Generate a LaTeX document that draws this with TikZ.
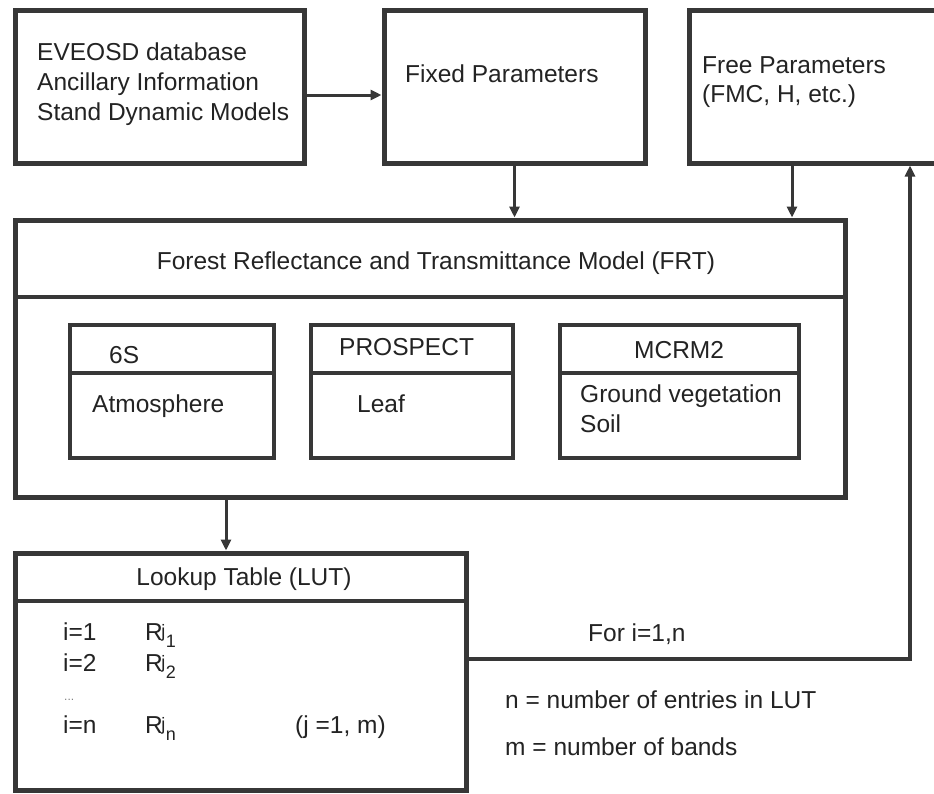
\documentclass[tikz,border=0pt]{standalone}
\usepackage{fontspec}
\setmainfont{Liberation Sans}
\usetikzlibrary{arrows.meta}
\definecolor{ink}{RGB}{55,55,55}
\definecolor{txt}{RGB}{35,35,35}
% R with superscript j and a subscript index
\newcommand{\Rji}[1]{R\kern-1.5pt\raisebox{3pt}{\fontsize{18}{18}\selectfont j}\kern0.5pt\raisebox{-7pt}{\fontsize{18}{18}\selectfont #1}}
\begin{document}
\begin{tikzpicture}[x=1pt,y=-1pt,
  outerbox/.style={draw=ink, line width=5pt, rectangle, inner sep=0pt, outer sep=0pt, anchor=north west},
  innerbox/.style={draw=ink, line width=3.5pt, rectangle, inner sep=0pt, outer sep=0pt, anchor=north west},
  lbl/.style={anchor=base west, inner sep=0pt, text=txt, font=\fontsize{24.5}{29}\selectfont},
  clbl/.style={anchor=base, inner sep=0pt, text=txt, font=\fontsize{24.5}{29}\selectfont},
  tip/.style={-{Triangle[length=11pt,width=10pt]}},
  arr/.style={draw=ink, line width=3pt, tip, shorten >=2.5pt},
  link/.style={draw=ink, line width=4pt},
  divider/.style={draw=ink, line width=4.5pt},
  subdivider/.style={draw=ink, line width=3.5pt}]
\useasboundingbox (0,0) rectangle (934,793);
\clip (0,0) rectangle (934,793);
\fill[white] (0,0) rectangle (934,793);

% top row
\node[outerbox, minimum width=289pt, minimum height=153pt] (src) at (15,10) {};
\node[outerbox, minimum width=261pt, minimum height=153pt] (fixed) at (384,10) {};
\node[outerbox, minimum width=262pt, minimum height=153pt] (free) at (689,10) {};

% FRT model
\node[outerbox, minimum width=830pt, minimum height=277pt] (frt) at (15,220) {};
\coordinate (frtdiv) at (0,297);
\draw[divider] (frt.west |- frtdiv) -- (frt.east |- frtdiv);

% sub-models
\node[innerbox, minimum width=204pt, minimum height=133pt] (sixs) at (70,325) {};
\node[innerbox, minimum width=202pt, minimum height=133pt] (prosp) at (311,325) {};
\node[innerbox, minimum width=239pt, minimum height=133pt] (mcrm) at (560,325) {};
\coordinate (subdiv) at (0,373);
\draw[subdivider] (sixs.west |- subdiv) -- (sixs.east |- subdiv);
\draw[subdivider] (prosp.west |- subdiv) -- (prosp.east |- subdiv);
\draw[subdivider] (mcrm.west |- subdiv) -- (mcrm.east |- subdiv);

% lookup table
\node[outerbox, minimum width=451pt, minimum height=237pt] (lut) at (15,553) {};
\coordinate (lutdiv) at (0,601);
\draw[divider] (lut.west |- lutdiv) -- (lut.east |- lutdiv);

% connectors
\coordinate (arow) at (0,95);
\draw[arr] (src.east |- arow) -- (fixed.west |- arow);
\draw[arr] (fixed.south) -- (fixed.south |- frt.north);
\coordinate (fx) at (792,0);
\draw[arr] (free.south -| fx) -- (frt.north -| fx);
\coordinate (lx) at (226,0);
\draw[arr] (frt.south -| lx) -- (lut.north -| lx);
\coordinate (fb) at (910,659);
\draw[link, tip, shorten >=2.5pt] (lut.east |- fb) -- (fb) -- (free.south -| fb);

% texts
\node[lbl] (t1) at (37,60) {EVEOSD database};
\node[lbl] (t2) at (37,90) {Ancillary Information};
\node[lbl] (t3) at (37,120) {Stand Dynamic Models};
\node[lbl] (tfix) at (405,82) {Fixed Parameters};
\node[lbl] (tfree1) at (702,73) {Free Parameters};
\node[lbl] (tfree2) at (702,102) {(FMC, H, etc.)};
\node[clbl] (tfrt) at (436,269) {Forest Reflectance and Transmittance Model (FRT)};
\node[lbl] (t6s) at (109,363) {6S};
\node[lbl] (tatm) at (92,412) {Atmosphere};
\node[lbl] (tpro) at (339,355) {PROSPECT};
\node[lbl] (tleaf) at (357,412) {Leaf};
\node[lbl] (tmc) at (634,358) {MCRM2};
\node[lbl] (tgv) at (580,402) {Ground vegetation};
\node[lbl] (tsoil) at (580,432) {Soil};
\node[clbl] (tlut) at (244,585) {Lookup Table (LUT)};
\node[lbl] (i1) at (63,640) {i=1};
\node[lbl] (r1) at (145,640) {\Rji{1}};
\node[lbl] (i2) at (63,671) {i=2};
\node[lbl] (r2) at (145,671) {\Rji{2}};
\node[lbl, font=\fontsize{12}{12}\selectfont, text=gray] (dots) at (64,700) {...};
\node[lbl] (in) at (63,733) {i=n};
\node[lbl] (rn) at (145,733) {\Rji{n}};
\node[lbl] (jm) at (295,733) {(j =1, m)};
\node[lbl] (loop) at (588,641) {For i=1,n};
\node[lbl] (nlab) at (505,708) {n = number of entries in LUT};
\node[lbl] (mlab) at (505,755) {m = number of bands};
\end{tikzpicture}
\end{document}
